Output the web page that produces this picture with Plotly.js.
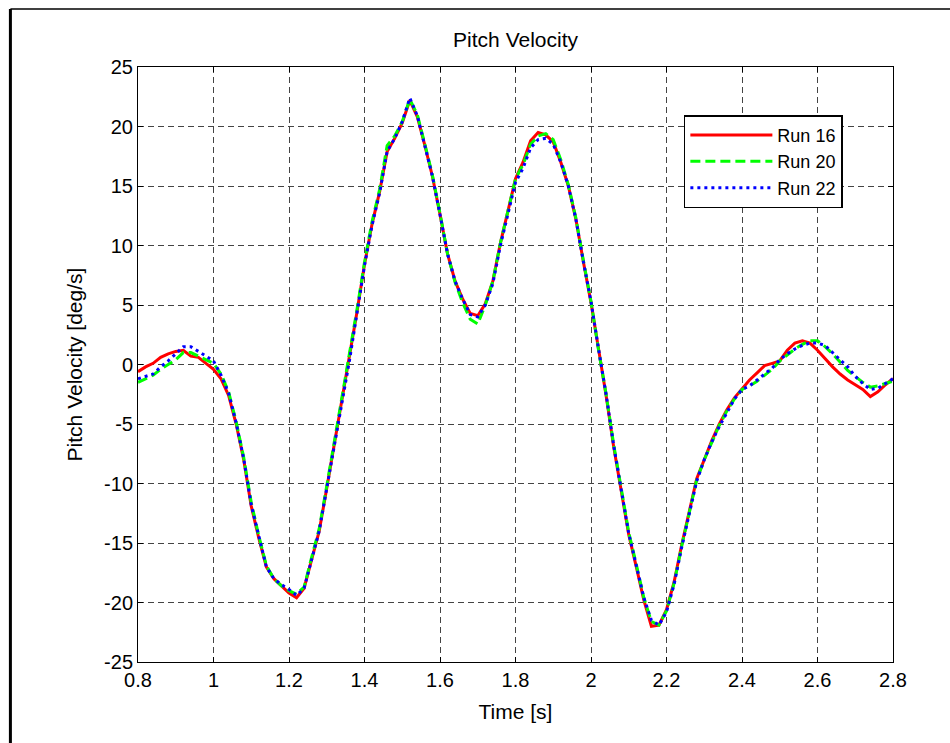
<!DOCTYPE html>
<html>
<head>
<meta charset="utf-8">
<script src="https://cdn.plot.ly/plotly-3.0.1.min.js"></script>
<style>html,body{margin:0;padding:0;background:#fff;}#chart{width:950px;height:743px;}</style>
</head>
<body>
<div id="chart"></div>
<script>
const time = [0.80,0.82,0.84,0.86,0.88,0.90,0.92,0.94,0.96,0.98,
1.00,1.02,1.04,1.06,1.08,1.10,1.12,1.14,1.16,1.18,
1.20,1.22,1.24,1.26,1.28,1.30,1.32,1.34,1.36,1.38,
1.40,1.42,1.44,1.46,1.48,1.50,1.52,1.54,1.56,1.58,
1.60,1.62,1.64,1.66,1.68,1.70,1.72,1.74,1.76,1.78,
1.80,1.82,1.84,1.86,1.88,1.90,1.92,1.94,1.96,1.98,
2.00,2.02,2.04,2.06,2.08,2.10,2.12,2.14,2.16,2.18,
2.20,2.22,2.24,2.26,2.28,2.30,2.32,2.34,2.36,2.38,
2.40,2.42,2.44,2.46,2.48,2.50,2.52,2.54,2.56,2.58,
2.60,2.62,2.64,2.66,2.68,2.70,2.72,2.74,2.76,2.78,2.80];

const run16 = [-0.6,-0.2,0.1,0.6,0.9,1.1,1.2,0.7,0.6,0.1,
-0.4,-1.2,-2.6,-5.0,-8.0,-11.9,-14.6,-17.0,-18.0,-18.6,
-19.2,-19.6,-18.8,-16.4,-14.0,-10.4,-6.7,-3.2,0.4,4.4,
8.4,11.8,14.5,17.9,19.0,20.3,22.2,20.8,18.4,15.8,
12.6,9.3,7.0,5.5,4.3,4.1,5.1,7.0,10.2,13.0,
15.6,17.0,18.8,19.5,19.3,18.7,17.0,15.0,12.2,8.6,
5.2,1.3,-2.6,-6.9,-10.6,-14.3,-17.0,-19.8,-22.0,-21.9,
-20.6,-18.3,-15.2,-12.3,-9.6,-8.0,-6.4,-5.0,-3.8,-2.8,
-2.0,-1.3,-0.7,-0.1,0.1,0.3,1.2,1.8,2.0,1.8,
1.2,0.5,-0.2,-0.8,-1.3,-1.7,-2.1,-2.7,-2.3,-1.7,-1.2];

const run20 = [-1.5,-1.2,-0.9,-0.4,0.0,0.4,1.0,1.0,0.7,0.4,
0.1,-0.8,-2.3,-4.8,-7.8,-11.6,-14.4,-16.9,-18.0,-18.6,
-19.0,-19.3,-18.7,-16.2,-13.8,-10.2,-6.5,-3.0,0.6,4.6,
8.6,12.0,14.7,18.4,19.2,20.4,22.3,21.0,18.5,15.9,
12.7,9.3,6.9,5.2,3.8,3.4,5.0,7.0,10.2,13.0,
15.6,16.8,18.5,19.2,19.4,18.9,17.2,15.1,12.3,8.7,
5.3,1.2,-2.5,-6.7,-10.4,-14.1,-16.8,-19.6,-21.6,-21.9,
-20.7,-18.4,-15.3,-12.4,-9.7,-8.0,-6.5,-5.1,-3.9,-2.9,
-2.1,-1.8,-1.4,-0.9,-0.4,0.3,0.8,1.3,1.7,2.0,
2.0,1.5,0.9,0.2,-0.5,-1.0,-1.5,-1.9,-1.8,-1.6,-1.4];

const run22 = [-1.2,-1.0,-0.8,-0.2,0.3,0.9,1.5,1.5,1.1,0.7,
0.3,-0.9,-2.4,-4.9,-7.9,-11.8,-14.5,-17.0,-18.0,-18.5,
-18.9,-19.4,-18.8,-16.4,-14.0,-10.4,-6.8,-3.3,0.3,4.3,
8.3,11.7,14.4,17.9,19.0,20.4,22.4,20.9,18.4,15.8,
12.6,9.3,7.0,5.5,4.2,4.0,5.0,6.8,10.0,12.7,
15.3,16.5,18.2,18.9,19.0,18.5,17.0,15.0,12.2,8.6,
5.3,1.3,-2.5,-6.8,-10.5,-14.2,-16.9,-19.6,-21.5,-21.9,
-20.8,-18.5,-15.4,-12.5,-9.8,-8.0,-6.5,-5.2,-4.0,-2.9,
-2.1,-1.8,-1.3,-0.8,-0.3,0.4,0.9,1.3,1.6,1.8,
1.8,1.6,1.0,0.4,-0.2,-1.0,-1.6,-2.1,-2.0,-1.6,-1.2];

const seriesNames = ['Run 16','Run 20','Run 22'];
const xTicks = [0.8,1,1.2,1.4,1.6,1.8,2,2.2,2.4,2.6,2.8];
const yTicks = [-25,-20,-15,-10,-5,0,5,10,15,20,25];

const FONT = 'Liberation Sans, Arial, Helvetica, sans-serif';

const traces = [
  {x: time, y: run16, name: seriesNames[0], mode: 'lines', line: {color: '#ff0000', width: 3, dash: 'solid'}},
  {x: time, y: run20, name: seriesNames[1], mode: 'lines', line: {color: '#00ff00', width: 3, dash: '10px,5px'}},
  {x: time, y: run22, name: seriesNames[2], mode: 'lines', line: {color: '#0000ff', width: 3, dash: '3px,4px'}}
];

const axisCommon = {
  showline: true, linecolor: '#000', linewidth: 1, mirror: 'ticks',
  ticks: 'inside', ticklen: 5, tickcolor: '#000', tickwidth: 1,
  showgrid: true, gridcolor: '#444', gridwidth: 1, griddash: '6px,4px',
  zeroline: false, tickfont: {family: FONT, size: 20, color: '#000'}
};

const layout = {
  width: 950, height: 743,
  paper_bgcolor: '#fff', plot_bgcolor: '#fff',
  margin: {l: 137.5, r: 57, t: 67, b: 81},
  title: {text: 'Pitch Velocity', font: {family: FONT, size: 21, color: '#000'}, x: 0.5427, xanchor: 'center', y: 0.947, yanchor: 'middle'},
  xaxis: Object.assign({}, axisCommon, {
    range: [0.8, 2.8], tickvals: xTicks, ticktext: xTicks.map(String),
    title: {text: 'Time [s]', font: {family: FONT, size: 21, color: '#000'}, standoff: 14}
  }),
  yaxis: Object.assign({}, axisCommon, {
    range: [-25, 25], tickvals: yTicks, ticktext: yTicks.map(String),
    title: {text: 'Pitch Velocity [deg/s]', font: {family: FONT, size: 21, color: '#000'}, standoff: 15}
  }),
  showlegend: true,
  legend: {
    x: 0.723, y: 0.919, xanchor: 'left', yanchor: 'top',
    bgcolor: '#fff', bordercolor: '#000', borderwidth: 1.5,
    font: {family: FONT, size: 18, color: '#000'},
    tracegroupgap: 0, itemwidth: 82
  },
  shapes: [
    {type: 'line', xref: 'paper', yref: 'paper', x0: -0.169, x1: 1.2, y0: 1.0975, y1: 1.0975, line: {color: '#000', width: 1.5}},
    {type: 'line', xref: 'paper', yref: 'paper', x0: -0.169, x1: -0.169, y0: 1.0975, y1: -0.2, line: {color: '#000', width: 3}}
  ]
};

Plotly.newPlot('chart', traces, layout, {displayModeBar: false, staticPlot: true});
</script>
</body>
</html>
